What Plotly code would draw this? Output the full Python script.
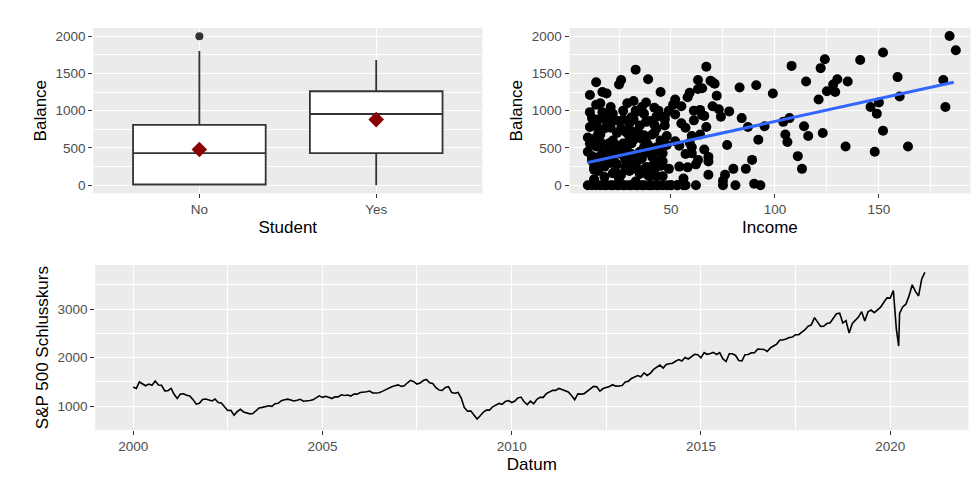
import pandas as pd
import plotly.graph_objects as go

# Box plot summary (Balance by Student)
box_cats = ["No", "Yes"]
box_q1 = [10, 430]
box_median = [430, 955]
box_q3 = [810, 1260]
box_low = [0, 0]
box_high = [1800, 1680]
box_means = [480, 880]
outlier_cat = ["No"]
outlier_val = [1999]

# Scatter Income vs Balance
income = [
    10, 11, 11, 12, 12, 13, 13, 14, 14, 15, 15, 16, 16, 17, 17, 18, 18, 19, 19, 20,
    20, 21, 21, 22, 22, 23, 23, 24, 24, 25, 25, 26, 26, 27, 27, 28, 28, 29, 29, 30,
    30, 31, 31, 32, 32, 33, 33, 34, 34, 35, 35, 36, 36, 37, 37, 38, 38, 39, 39, 40,
    40, 41, 41, 42, 42, 43, 43, 44, 44, 45, 45, 46, 46, 47, 48, 49, 50, 51, 52, 53,
    10, 11, 12, 13, 14, 15, 16, 17, 18, 19, 20, 21, 22, 23, 24, 25, 26, 27, 28, 29,
    30, 31, 32, 33, 34, 35, 36, 37, 38, 39, 40, 41, 42, 43, 44, 45, 46, 47, 48, 49,
    10, 12, 14, 16, 18, 20, 22, 24, 26, 28, 30, 32, 34, 36, 38, 40, 42, 44, 46, 48,
    11, 13, 15, 17, 19, 21, 23, 25, 27, 29, 31, 33, 35, 37, 39, 41, 43, 45, 47, 50,
    52, 54, 55, 56, 57, 58, 59, 60, 61, 62, 63, 64, 65, 66, 67, 68, 69, 70, 71, 72,
    53, 55, 57, 58, 60, 62, 63, 65, 66, 68, 54, 56, 59, 61, 64, 67, 52, 57, 60, 63,
    73, 74, 75, 76, 77, 78, 80, 81, 83, 84, 86, 87, 89, 90, 91, 92, 93, 95, 99, 104,
    105, 106, 107, 108, 111, 113, 114, 115, 116, 121, 122, 123, 124, 125, 128, 129, 130, 134, 135, 141,
    146, 148, 149, 150, 152, 152, 159, 160, 164, 181, 182, 184, 187, 14, 24, 33, 39, 68, 70, 75,
    12, 15, 18, 21, 25, 28, 31, 35, 38, 42, 13, 17, 22, 27, 32, 37, 43, 16, 26, 36,
]
balance = [
    0, 1210, 560, 900, 0, 620, 330, 1380, 0, 190, 880, 1100, 0, 470, 1250, 0, 760, 1230, 0, 950,
    330, 0, 1050, 600, 0, 870, 180, 0, 700, 1350, 0, 420, 1410, 0, 1000, 240, 0, 700, 1100, 0,
    830, 420, 0, 1130, 610, 0, 1550, 990, 0, 350, 800, 0, 1050, 510, 0, 1110, 240, 0, 1420, 0,
    860, 450, 0, 1040, 180, 0, 760, 1000, 0, 1250, 600, 0, 320, 920, 0, 1000, 0, 1080, 590, 0,
    450, 980, 330, 210, 520, 760, 680, 980, 410, 870, 560, 770, 160, 310, 510, 860, 140, 560, 720, 300,
    650, 910, 380, 50, 730, 450, 200, 670, 850, 540, 120, 380, 700, 920, 500, 260, 430, 880, 660, 220,
    640, 370, 830, 580, 110, 450, 960, 280, 760, 520, 190, 880, 650, 360, 590, 230, 810, 460, 120, 540,
    780, 240, 690, 410, 790, 300, 550, 120, 880, 460, 720, 280, 420, 960, 130, 680, 510, 340, 800, 0,
    1150, 530, 1060, 0, 770, 240, 1240, 510, 1000, 0, 1410, 680, 1300, 930, 1590, 380, 1400, 1060, 1360, 1200,
    0, 830, 420, 1180, 660, 280, 1290, 940, 480, 320, 250, 90, 570, 870, 1010, 780, 950, 0, 430, 340,
    1020, 920, 0, 140, 540, 990, 220, 0, 1310, 900, 220, 780, 340, 20, 1340, 610, 0, 790, 1230, 850,
    680, 580, 900, 1600, 390, 220, 790, 1390, 660, 1150, 1570, 700, 1690, 1260, 1350, 1250, 1420, 520, 1390, 1680,
    1050, 450, 960, 1110, 1780, 730, 1450, 1190, 520, 1410, 1050, 2000, 1810, 1080, 160, 1000, 240, 140, 1380, 60,
    390, 620, 250, 490, 90, 350, 560, 150, 440, 300, 80, 270, 420, 550, 220, 660, 120, 390, 500, 620,
]
trend_x = [10, 186]
trend_y = [305, 1380]

# S&P 500 monthly closes 2000-2020 (plus the March 2020 low)
sp_dates = list(pd.date_range("2000-01-01", "2020-12-01", freq="MS")) + [pd.Timestamp("2020-03-23")]
sp_close = [
    1394, 1366, 1498, 1452, 1420, 1454, 1430, 1517, 1436, 1429, 1315, 1320,
    1366, 1240, 1160, 1249, 1256, 1224, 1211, 1134, 1041, 1060, 1139, 1148,
    1130, 1107, 1147, 1076, 1067, 990, 912, 916, 815, 886, 936, 880,
    856, 841, 848, 916, 964, 975, 990, 1008, 996, 1051, 1058, 1112,
    1131, 1145, 1126, 1107, 1121, 1141, 1102, 1104, 1115, 1130, 1174, 1212,
    1181, 1204, 1181, 1157, 1192, 1191, 1234, 1220, 1229, 1207, 1249, 1248,
    1280, 1281, 1295, 1311, 1270, 1270, 1277, 1304, 1336, 1378, 1401, 1418,
    1438, 1407, 1421, 1482, 1531, 1503, 1455, 1474, 1527, 1549, 1481, 1468,
    1379, 1331, 1323, 1386, 1400, 1280, 1267, 1283, 1166, 969, 896, 903,
    826, 735, 798, 873, 919, 919, 987, 1021, 1057, 1036, 1096, 1115,
    1074, 1104, 1169, 1187, 1089, 1031, 1102, 1049, 1141, 1183, 1181, 1258,
    1286, 1327, 1326, 1364, 1345, 1321, 1292, 1219, 1131, 1253, 1247, 1258,
    1312, 1366, 1408, 1398, 1310, 1362, 1379, 1407, 1441, 1412, 1416, 1426,
    1498, 1515, 1569, 1598, 1631, 1606, 1686, 1633, 1682, 1757, 1806, 1848,
    1783, 1859, 1872, 1884, 1924, 1960, 1931, 2003, 1972, 2018, 2068, 2059,
    1995, 2105, 2068, 2086, 2107, 2063, 2104, 1972, 1920, 2079, 2080, 2044,
    1940, 1932, 2060, 2065, 2097, 2099, 2174, 2171, 2168, 2126, 2199, 2239,
    2279, 2364, 2363, 2384, 2412, 2423, 2470, 2472, 2519, 2575, 2648, 2674,
    2824, 2714, 2641, 2648, 2705, 2718, 2816, 2902, 2914, 2712, 2760, 2507,
    2704, 2784, 2834, 2946, 2752, 2942, 2980, 2926, 2977, 3038, 3141, 3231,
    3226, 3380, 2585, 2912, 3044, 3100, 3271, 3500, 3363, 3270, 3622, 3756,
    2237,
]
sp = pd.DataFrame({"Datum": sp_dates, "Close": sp_close}).sort_values("Datum")

PANEL = "#EBEBEB"
FONT = "Liberation Sans, Arial, sans-serif"

fig = go.Figure()

fig.add_trace(go.Box(
    x=box_cats, q1=box_q1, median=box_median, q3=box_q3,
    lowerfence=box_low, upperfence=box_high, boxpoints=False,
    fillcolor="white", line=dict(color="#333333", width=1.8), width=0.75,
    whiskerwidth=0, xaxis="x", yaxis="y", showlegend=False,
))
fig.add_trace(go.Scatter(
    x=outlier_cat, y=outlier_val, mode="markers",
    marker=dict(color="#333333", size=8), xaxis="x", yaxis="y", showlegend=False,
))
fig.add_trace(go.Scatter(
    x=box_cats, y=box_means, mode="markers",
    marker=dict(color="#8B0000", size=12, symbol="diamond"), xaxis="x", yaxis="y", showlegend=False,
))

fig.add_trace(go.Scatter(
    x=income, y=balance, mode="markers",
    marker=dict(color="black", size=10), xaxis="x2", yaxis="y2", showlegend=False,
))
fig.add_trace(go.Scatter(
    x=trend_x, y=trend_y, mode="lines",
    line=dict(color="#3366FF", width=3), xaxis="x2", yaxis="y2", showlegend=False,
))

fig.add_trace(go.Scatter(
    x=sp["Datum"], y=sp["Close"], mode="lines",
    line=dict(color="black", width=1.6), xaxis="x3", yaxis="y3", showlegend=False,
))

axis_style = dict(
    showgrid=True, gridcolor="white", gridwidth=1.4, zeroline=False,
    ticks="outside", ticklen=4, tickcolor="#333333", tickfont=dict(size=13.5, color="#4D4D4D"),
    title_font=dict(size=17, color="black"), showline=False,
)
y_minor = dict(showgrid=True, gridcolor="white", gridwidth=0.6, tickvals=[250, 750, 1250, 1750], ticks="")

fig.update_layout(
    width=980, height=502, margin=dict(l=0, r=0, t=0, b=0),
    paper_bgcolor="white", plot_bgcolor=PANEL, font=dict(family=FONT),
    xaxis=dict(axis_style, domain=[0.087, 0.484], range=[-0.6, 1.6], title_text="Student", title_standoff=4),
    yaxis=dict(axis_style, domain=[0.631, 0.960], range=[-107, 2107], tickvals=[0, 500, 1000, 1500, 2000],
               minor=y_minor, title_text="Balance", title_standoff=4),
    xaxis2=dict(axis_style, domain=[0.573, 0.982], range=[1.2, 194], tickvals=[50, 100, 150],
                minor=dict(showgrid=True, gridcolor="white", gridwidth=0.6, tickvals=[25, 75, 125, 175], ticks=""),
                title_text="Income", anchor="y2", title_standoff=4),
    yaxis2=dict(axis_style, domain=[0.631, 0.960], range=[-107, 2107], tickvals=[0, 500, 1000, 1500, 2000],
                minor=y_minor, title_text="Balance", anchor="x2", title_standoff=4),
    xaxis3=dict(axis_style, domain=[0.089, 0.980], range=["1998-12-31", "2022-01-25"],
                tickvals=["2000-01-01", "2005-01-01", "2010-01-01", "2015-01-01", "2020-01-01"],
                ticktext=["2000", "2005", "2010", "2015", "2020"],
                minor=dict(showgrid=True, gridcolor="white", gridwidth=0.6, ticks="",
                           tickvals=["2002-07-02", "2007-07-02", "2012-07-02", "2017-07-02"]),
                title_text="Datum", anchor="y3", title_standoff=4),
    yaxis3=dict(axis_style, domain=[0.159, 0.488], range=[505, 3907], tickvals=[1000, 2000, 3000],
                minor=dict(showgrid=True, gridcolor="white", gridwidth=0.6, tickvals=[1500, 2500, 3500], ticks=""),
                title_text="S&P 500 Schlusskurs", anchor="x3", title_standoff=4),
)

fig.write_html("out.html")
